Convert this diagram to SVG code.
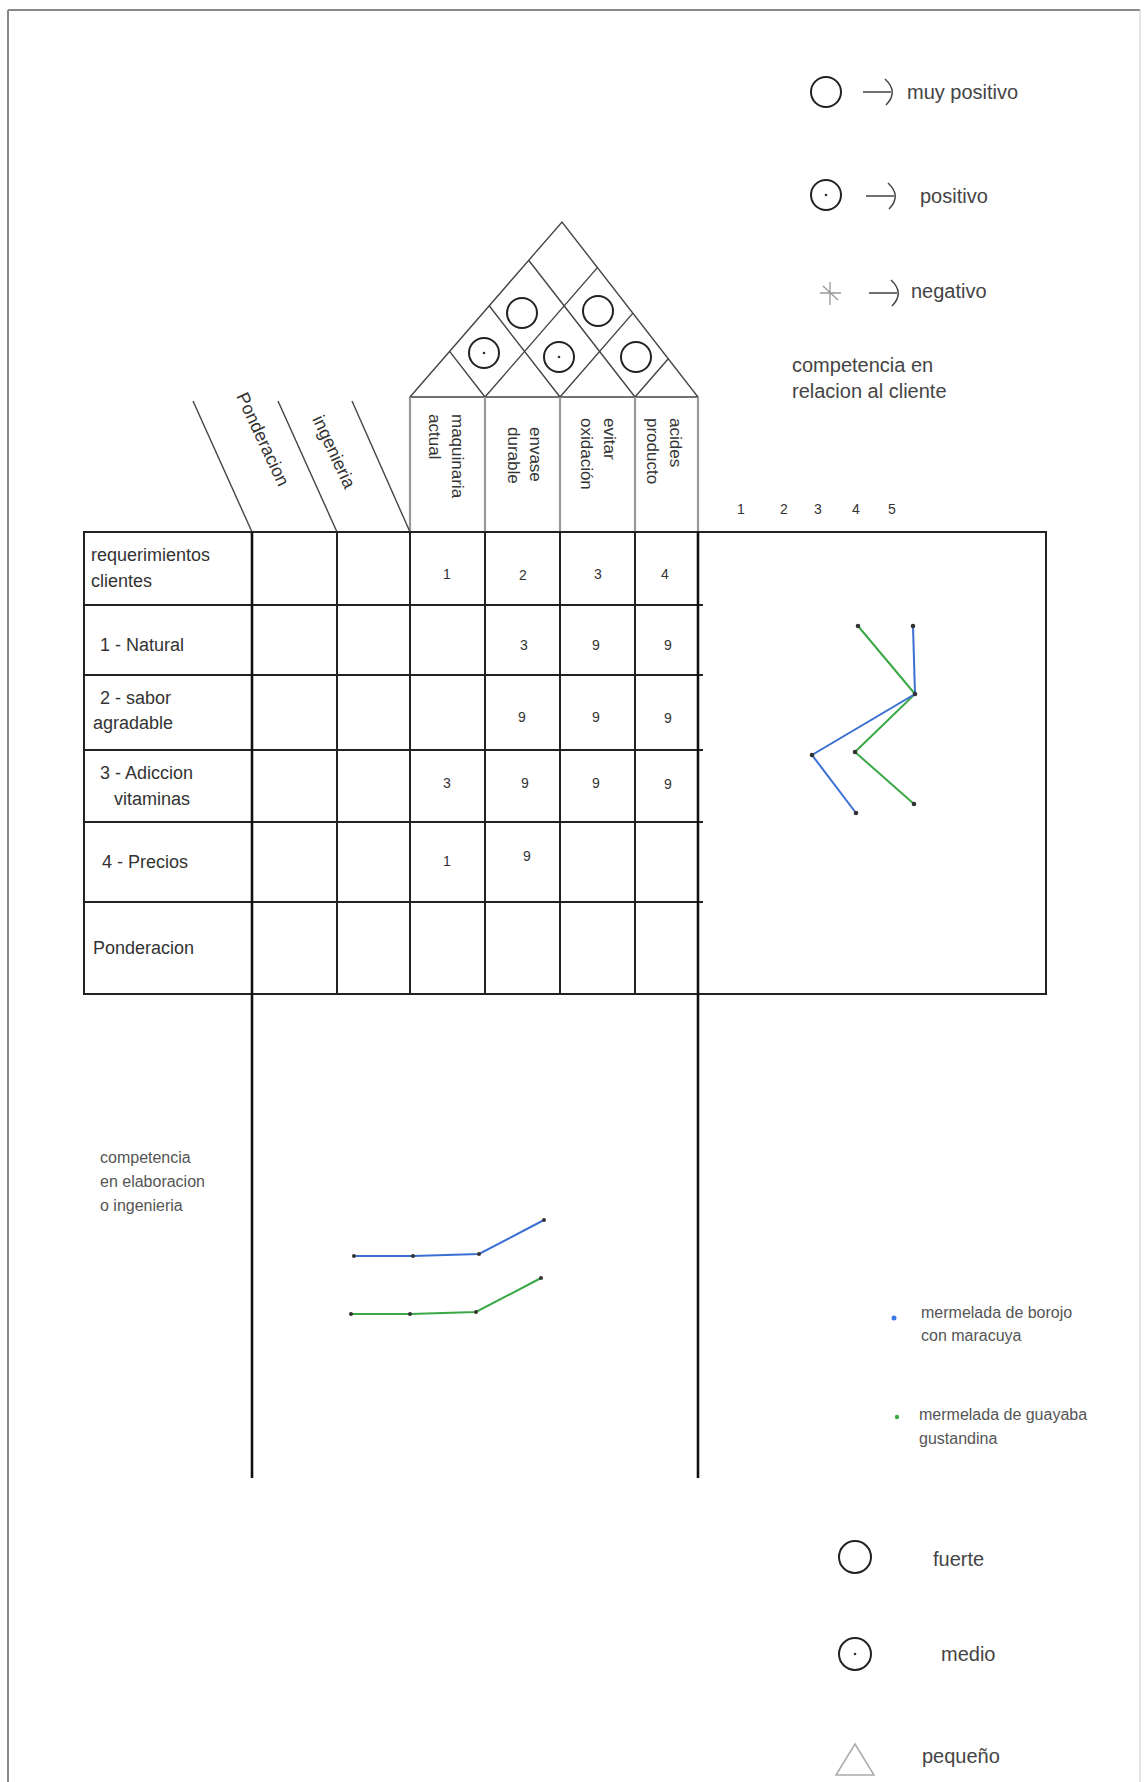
<svg xmlns="http://www.w3.org/2000/svg" width="1146" height="1782" viewBox="0 0 1146 1782">
<style>
text{font-family:"Liberation Sans","Noto Sans",Arial,sans-serif;fill:#333}
.lbl{font-size:18px}
.hdr{font-size:17px}
.num{font-size:14px;text-anchor:middle}
.sm{font-size:16px;fill:#555}
.leg{font-size:20px;fill:#444}
.tl{stroke:#222;stroke-width:2;fill:none}
.thick{stroke:#111;stroke-width:2.6;fill:none}
.col{stroke:#999;stroke-width:2.2;fill:none}
.roof{stroke:#444;stroke-width:1.4;fill:none}
.sym{stroke:#222;stroke-width:2;fill:none}
.arr{stroke:#444;stroke-width:1.5;fill:none}
.blue{stroke:#3b6fd4;stroke-width:2;fill:none}
.green{stroke:#3aa845;stroke-width:2;fill:none}
.pt{fill:#333}
</style>

<g id="frame">
<line x1="8" y1="10" x2="1140" y2="10" stroke="#888" stroke-width="2"/>
<line x1="8" y1="10" x2="8" y2="1782" stroke="#888" stroke-width="2"/>
<line x1="1140" y1="10" x2="1140" y2="1782" stroke="#ccc" stroke-width="1"/>
</g>

<g id="legend-correlation">
<circle class="sym" cx="826" cy="92" r="15"/>
<path class="arr" d="M863 92H891M885 79Q899 92 886 105"/>
<text class="leg" x="907" y="99">muy positivo</text>
<circle class="sym" cx="826" cy="195" r="15"/>
<circle class="pt" cx="826" cy="195" r="1.3"/>
<path class="arr" d="M866 196H894M888 183Q902 196 889 209"/>
<text class="leg" x="920" y="203">positivo</text>
<path d="M820 293H841M830 282V305M823 286L838 300" stroke="#999" stroke-width="1.3" fill="none"/>
<path class="arr" d="M869 293H897M891 280Q905 293 892 306"/>
<text class="leg" x="911" y="298">negativo</text>
</g>

<g id="roof">
<path class="roof" d="M410 397L562 222L698 397Z"/>
<path class="roof" d="M485 397L597.4 267.6M560 397L632.9 313.1M635 397L668.3 358.7"/>
<path class="roof" d="M485 397L449.6 351.4M560 397L489.2 305.8M635 397L528.7 260.3"/>
<circle class="sym" cx="484" cy="353" r="15"/>
<circle class="pt" cx="484" cy="353" r="1.3"/>
<circle class="sym" cx="559" cy="357" r="15"/>
<circle class="pt" cx="559" cy="357" r="1.3"/>
<circle class="sym" cx="636" cy="357" r="15"/>
<circle class="sym" cx="522" cy="313" r="15"/>
<circle class="sym" cx="598" cy="311" r="15"/>
</g>

<g id="column-headers">
<line class="col" x1="410" y1="397" x2="410" y2="532"/>
<line class="col" x1="485" y1="397" x2="485" y2="532"/>
<line class="col" x1="560" y1="397" x2="560" y2="532"/>
<line class="col" x1="635" y1="397" x2="635" y2="532"/>
<line class="col" x1="698" y1="397" x2="698" y2="532"/>
<text class="hdr" transform="translate(452 414) rotate(90)">maquinaria</text>
<text class="hdr" transform="translate(429 414) rotate(90)">actual</text>
<text class="hdr" transform="translate(530 427) rotate(90)">envase</text>
<text class="hdr" transform="translate(508 427) rotate(90)">durable</text>
<text class="hdr" transform="translate(604 418) rotate(90)">evitar</text>
<text class="hdr" transform="translate(581 418) rotate(90)">oxidación</text>
<text class="hdr" transform="translate(670 418) rotate(90)">acides</text>
<text class="hdr" transform="translate(647 418) rotate(90)">producto</text>
</g>

<g id="slanted-headers">
<line class="roof" x1="193" y1="401" x2="252" y2="532"/>
<line class="roof" x1="278" y1="401" x2="337" y2="532"/>
<line class="roof" x1="352" y1="401" x2="410" y2="532"/>
<text class="lbl" transform="translate(236 396) rotate(65)">Ponderacion</text>
<text class="lbl" transform="translate(312 419) rotate(65)">ingenieria</text>
</g>

<g id="matrix">
<rect class="tl" x="84" y="532" width="962" height="462"/>
<path class="tl" d="M84 605H703M84 675H703M84 750H703M84 822H703M84 902H703"/>
<path class="tl" d="M337 532V994M410 532V994M485 532V994M560 532V994M635 532V994"/>
<line class="thick" x1="252" y1="532" x2="252" y2="1478"/>
<line class="thick" x1="698" y1="532" x2="698" y2="1478"/>
<text class="lbl" x="91" y="561">requerimientos</text>
<text class="lbl" x="91" y="587">clientes</text>
<text class="lbl" x="100" y="651">1 - Natural</text>
<text class="lbl" x="100" y="704">2 - sabor</text>
<text class="lbl" x="93" y="729">agradable</text>
<text class="lbl" x="100" y="779">3 - Adiccion</text>
<text class="lbl" x="114" y="805">vitaminas</text>
<text class="lbl" x="102" y="868">4 - Precios</text>
<text class="lbl" x="93" y="954">Ponderacion</text>
<text class="num" x="447" y="579">1</text>
<text class="num" x="523" y="580">2</text>
<text class="num" x="598" y="579">3</text>
<text class="num" x="665" y="579">4</text>
<text class="num" x="524" y="650">3</text>
<text class="num" x="596" y="650">9</text>
<text class="num" x="668" y="650">9</text>
<text class="num" x="522" y="722">9</text>
<text class="num" x="596" y="722">9</text>
<text class="num" x="668" y="723">9</text>
<text class="num" x="447" y="788">3</text>
<text class="num" x="525" y="788">9</text>
<text class="num" x="596" y="788">9</text>
<text class="num" x="668" y="789">9</text>
<text class="num" x="447" y="866">1</text>
<text class="num" x="527" y="861">9</text>
</g>

<g id="customer-competition">
<text class="leg" x="792" y="372">competencia en</text>
<text class="leg" x="792" y="398">relacion al cliente</text>
<text class="num" x="741" y="514">1</text>
<text class="num" x="784" y="514">2</text>
<text class="num" x="818" y="514">3</text>
<text class="num" x="856" y="514">4</text>
<text class="num" x="892" y="514">5</text>
<polyline class="green" points="858,626 915,694 855,752 914,804"/>
<polyline class="blue" points="913,626 915,694 812,755 856,813"/>
<circle class="pt" cx="858" cy="626" r="2.3"/>
<circle class="pt" cx="913" cy="626" r="2.3"/>
<circle class="pt" cx="915" cy="694" r="2.3"/>
<circle class="pt" cx="855" cy="752" r="2.3"/>
<circle class="pt" cx="812" cy="755" r="2.3"/>
<circle class="pt" cx="914" cy="804" r="2.3"/>
<circle class="pt" cx="856" cy="813" r="2.3"/>
</g>

<g id="technical-competition">
<text class="sm" x="100" y="1163">competencia</text>
<text class="sm" x="100" y="1187">en elaboracion</text>
<text class="sm" x="100" y="1211">o ingenieria</text>
<polyline class="blue" points="354,1256 413,1256 479,1254 544,1220"/>
<polyline class="green" points="351,1314 410,1314 476,1312 541,1278"/>
<circle class="pt" cx="354" cy="1256" r="2"/>
<circle class="pt" cx="413" cy="1256" r="2"/>
<circle class="pt" cx="479" cy="1254" r="2"/>
<circle class="pt" cx="544" cy="1220" r="2"/>
<circle class="pt" cx="351" cy="1314" r="2"/>
<circle class="pt" cx="410" cy="1314" r="2"/>
<circle class="pt" cx="476" cy="1312" r="2"/>
<circle class="pt" cx="541" cy="1278" r="2"/>
</g>

<g id="legend-products">
<circle cx="894" cy="1318" r="2.5" fill="#3b7be0"/>
<text class="sm" x="921" y="1318">mermelada de borojo</text>
<text class="sm" x="921" y="1341">con maracuya</text>
<circle cx="897" cy="1417" r="2.2" fill="#3aa845"/>
<text class="sm" x="919" y="1420">mermelada de guayaba</text>
<text class="sm" x="919" y="1444">gustandina</text>
</g>

<g id="legend-relationship">
<circle class="sym" cx="855" cy="1557" r="16"/>
<text class="leg" x="933" y="1566">fuerte</text>
<circle class="sym" cx="855" cy="1654" r="16"/>
<circle class="pt" cx="855" cy="1654" r="1.3"/>
<text class="leg" x="941" y="1661">medio</text>
<path d="M836 1775H874L855 1744Z" stroke="#aaa" stroke-width="1.5" fill="none"/>
<text class="leg" x="922" y="1763">pequeño</text>
</g>
</svg>
